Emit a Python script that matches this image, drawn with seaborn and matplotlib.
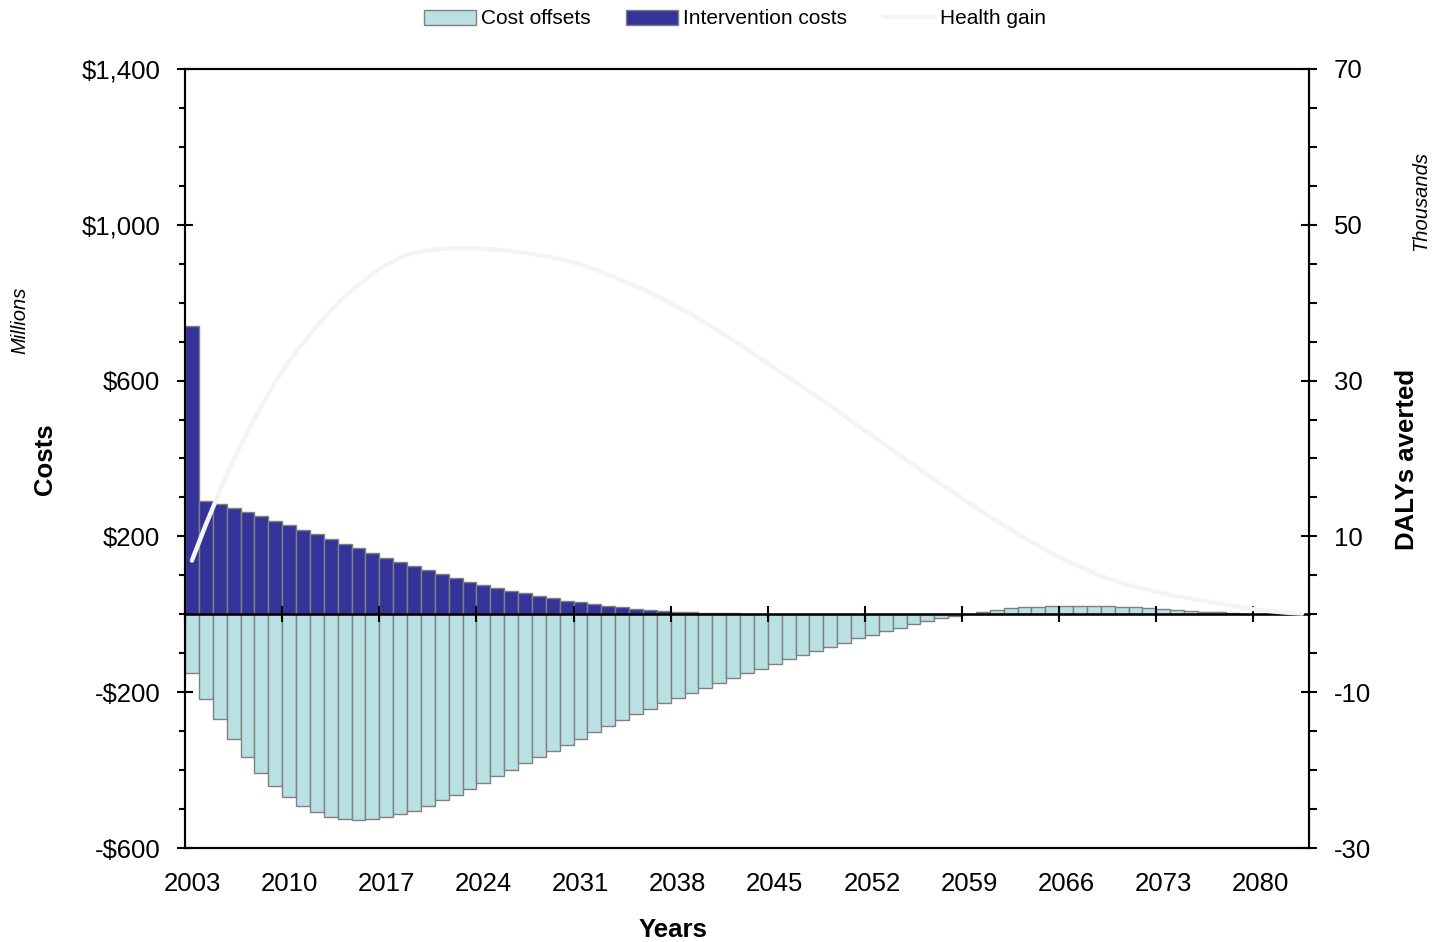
import numpy as np
import pandas as pd
import seaborn as sns
import matplotlib.pyplot as plt
from matplotlib.ticker import FixedLocator, MultipleLocator, FuncFormatter
from matplotlib.patches import Patch
from matplotlib.lines import Line2D

years = list(range(2003, 2084))

intervention_costs = [740, 291, 283, 273, 263, 252, 240, 230, 217, 205,
                      193, 181, 169, 157, 145, 133, 123, 113, 103, 93,
                      84, 76, 68, 60, 54, 47, 41, 35, 31, 26,
                      21, 18, 14, 11, 8.5, 6.7, 5, 4, 3.2, 2.5,
                      2, 1.6, 1.3, 1, 0.8, 0.6, 0.5, 0.4, 0.3, 0.2,
                      0.2, 0.1, 0, 0, 0, 0, 0, 0, 0, 0,
                      0, 0, 0, 0, 0, 0, 0, 0, 0, 0,
                      0, 0, 0, 0, 0, 0, 0, 0, 0, 0, 0]

cost_offsets = [-151, -218, -270, -321, -366, -407, -441, -470, -491, -507,
                -520, -525, -527, -525, -520, -512, -504, -492, -478, -463,
                -448, -432, -416, -400, -383, -367, -351, -335, -319, -303,
                -288, -272, -257, -242, -228, -215, -201, -188, -176, -164,
                -151, -140, -128, -116, -104, -93, -83, -73, -62, -53,
                -42, -34, -26, -18, -10, -5, 0.5, 7, 11, 15,
                18, 20, 21, 22, 22, 22, 21, 19.5, 18, 16,
                13.5, 11, 9, 7, 5, 3.5, 2, 1, 0.5, 0.3, 0.1]

# DALYs averted, thousands
health_gain = [6.9, 11.5, 15.8, 19.8, 23.4, 26.7, 29.8, 32.5, 34.8, 37.0,
               39.0, 40.8, 42.3, 43.7, 44.9, 45.8, 46.4, 46.7, 46.9, 47.0,
               47.0, 46.9, 46.8, 46.6, 46.4, 46.1, 45.8, 45.4, 44.9, 44.3,
               43.6, 42.9, 42.1, 41.3, 40.4, 39.4, 38.5, 37.4, 36.3, 35.2,
               34.0, 32.8, 31.6, 30.4, 29.2, 28.0, 26.8, 25.5, 24.2, 23.0,
               21.7, 20.4, 19.2, 17.9, 16.7, 15.5, 14.3, 13.1, 12.0, 10.9,
               9.8, 8.8, 7.8, 6.9, 6.1, 5.3, 4.6, 4.0, 3.5, 3.1,
               2.7, 2.3, 2.0, 1.7, 1.4, 1.1, 0.8, 0.55, 0.35, 0.2, 0.1]

LIGHT = '#b9e0e2'
DARK = '#333399'
EDGE = '#808080'
LINE = '#f4f4f4'

sns.set_theme(style='white')
plt.rcParams['font.family'] = ['Liberation Sans', 'DejaVu Sans']
plt.rcParams['axes.unicode_minus'] = False
for k in ['text.color', 'axes.labelcolor', 'xtick.color', 'ytick.color']:
    plt.rcParams[k] = 'black'

df = pd.DataFrame({'year': years, 'offsets': cost_offsets,
                   'costs': intervention_costs, 'health': health_gain})
df['pos'] = np.arange(len(df))

fig = plt.figure(figsize=(14.33, 9.42), dpi=100)
ax = fig.add_axes([185 / 1433, 1 - 848 / 942, 1124 / 1433, 779 / 942])

sns.barplot(data=df, x='year', y='offsets', color=LIGHT, saturation=1,
            width=1, edgecolor=EDGE, linewidth=1.0, ax=ax)
sns.barplot(data=df, x='year', y='costs', color=DARK, saturation=1,
            width=1, edgecolor=EDGE, linewidth=1.0, ax=ax)

ax.set_xlim(-0.5, len(years) - 0.5)
ax.set_ylim(-600, 1400)
ax.set_xlabel('')
ax.set_ylabel('')

# year labels on the bottom, every 7 years
label_pos = list(range(0, len(years), 7))
ax.set_xticks(label_pos)
ax.set_xticklabels([str(years[i]) for i in label_pos], fontsize=18.5)
ax.tick_params(axis='x', length=0, pad=17.5)

ax.yaxis.set_major_locator(FixedLocator([-600, -200, 200, 600, 1000, 1400]))
ax.yaxis.set_minor_locator(MultipleLocator(100))
ax.yaxis.set_major_formatter(FuncFormatter(
    lambda v, p: ('-$' if v < 0 else '$') + f'{abs(v):,.0f}'))
ax.tick_params(axis='y', which='major', direction='inout', length=11.5,
               width=1.5, labelsize=18.5, pad=12, left=True)
ax.tick_params(axis='y', which='minor', direction='out', length=4,
               width=1.5, left=True)

for s in ax.spines.values():
    s.set_visible(True)
    s.set_color('black')
    s.set_linewidth(1.5)

# horizontal category axis crossing at zero
zero_ax = ax.secondary_xaxis(600 / 2000)
zero_ax.set_zorder(5)
zero_ax.set_xticks([p - 0.5 for p in label_pos])
zero_ax.set_xticklabels([])
zero_ax.tick_params(direction='inout', length=11.5, width=1.5, color='black')
zero_ax.spines['bottom'].set_color('black')
zero_ax.spines['bottom'].set_linewidth(1.8)

ax2 = ax.twinx()
sns.lineplot(data=df, x='pos', y='health', color=LINE, linewidth=3.2,
             ax=ax2, legend=False)
ax2.set_ylim(-30, 70)
ax2.set_xlim(-0.5, len(years) - 0.5)
ax2.set_ylabel('')
ax2.set_xlabel('')
ax2.yaxis.set_major_locator(FixedLocator([-30, -10, 10, 30, 50, 70]))
ax2.yaxis.set_minor_locator(MultipleLocator(5))
ax2.tick_params(axis='y', which='major', direction='inout', length=11.5,
                width=1.5, labelsize=18.5, pad=12, right=True)
ax2.tick_params(axis='y', which='minor', direction='out', length=6,
                width=1.5, right=True)
for s in ax2.spines.values():
    s.set_color('black')
    s.set_linewidth(1.5)

# axis titles
fig.text(45 / 1433, 1 - 459 / 942, 'Costs', rotation=90, fontsize=18.5,
         fontweight='bold', ha='center', va='center')
fig.text(20 / 1433, 1 - 320 / 942, 'Millions', rotation=90, fontsize=14.5,
         style='italic', ha='center', va='center')
fig.text(1407 / 1433, 1 - 459 / 942, 'DALYs averted', rotation=90,
         fontsize=18.5, fontweight='bold', ha='center', va='center')
fig.text(1421 / 1433, 1 - 201 / 942, 'Thousands', rotation=90,
         fontsize=14.5, style='italic', ha='center', va='center')
fig.text(673 / 1433, 1 - 930 / 942, 'Years', fontsize=18.5,
         fontweight='bold', ha='center', va='center')

handles = [Patch(facecolor=LIGHT, edgecolor=EDGE, linewidth=1.0),
           Patch(facecolor=DARK, edgecolor=EDGE, linewidth=1.0),
           Line2D([0], [0], color=LINE, linewidth=3.2)]
fig.legend(handles, ['Cost offsets', 'Intervention costs', 'Health gain'],
           loc='center', bbox_to_anchor=(735 / 1433, 1 - 19 / 942),
           ncol=3, frameon=False, fontsize=15, handlelength=2.5,
           handletextpad=0.25, columnspacing=1.7, borderpad=0)

fig.savefig('out.png', dpi=100)
